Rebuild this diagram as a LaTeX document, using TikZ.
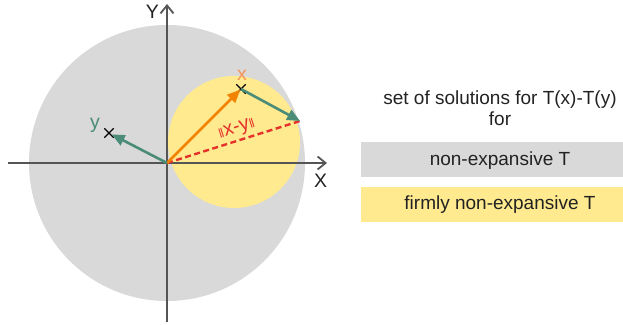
\documentclass[tikz,border=0pt]{standalone}
\usepackage{fontspec}
\setmainfont{Liberation Sans}
\usetikzlibrary{arrows.meta,shapes.misc}
\definecolor{cgray}{HTML}{D9D9D9}
\definecolor{cyel}{HTML}{FFEA8F}
\definecolor{cgreen}{HTML}{4A8C78}
\definecolor{corange}{HTML}{F28300}
\definecolor{clabor}{HTML}{F5935A}
\definecolor{cred}{HTML}{E5312B}
\definecolor{caxis}{HTML}{555555}
\definecolor{ctext}{HTML}{222222}
\begin{document}
\begin{tikzpicture}[x=1pt,y=-1pt,
  axis/.style={draw=caxis,line width=2pt,-{Straight Barb[length=8pt,width=13pt,line width=1.8pt]}},
  garrow/.style={draw=cgreen,line width=2.6pt,-{Triangle[length=13pt,width=11pt]}},
  oarrow/.style={draw=corange,line width=2.6pt,-{Triangle[length=13pt,width=11pt]}},
  reddash/.style={draw=cred,line width=2.4pt,dash pattern=on 6pt off 3.5pt},
  crossmark/.style={draw=black,cross out,line width=1.4pt,minimum size=8pt,inner sep=0pt},
  lab/.style={font=\fontsize{19.5}{22}\selectfont,inner sep=0pt},
  boxtxt/.style={font=\fontsize{19}{21}\selectfont,text=ctext,inner sep=0pt},
  legbox/.style={minimum width=262pt,minimum height=35pt,inner sep=0pt,draw=none}
]
\useasboundingbox (0,0) rectangle (623,324);
% circles
\fill[cgray] (167,163) circle[radius=138pt];
\fill[cyel] (234,142) circle[radius=66pt];
% axes
\coordinate (O) at (167,163);
\coordinate (axL) at (8,163);
\coordinate (axR) at (327,163);
\coordinate (axB) at (167,322);
\coordinate (axT) at (167,4);
\draw[axis] (axL) -- (axR);
\draw[axis] (axB) -- (axT);
\node[lab,text=ctext] (Ylab) at (152.5,12) {Y};
\node[lab,text=ctext] (Xlab) at (320.5,181) {X};
% points
\node[crossmark] (xp) at (241,89) {};
\node[crossmark] (yp) at (109,133) {};
\coordinate (P) at (300,121);
% vectors
\draw[reddash] (O) -- (P);
\draw[oarrow,shorten >=1pt] (O) -- (xp.center);
\draw[garrow,shorten >=3pt] (O) -- (yp.center);
\draw[garrow] (xp.center) -- (P);
% labels
\node[lab,text=clabor] (xlab) at (242,75) {x};
\node[lab,text=cgreen] (ylab) at (95,125) {y};
\node[text=cred,rotate=17.6,inner sep=0pt,font=\fontsize{20}{22}\selectfont] (dlab) at (237,129.5) {{\fontsize{13}{15}\selectfont ‖}x-y{\fontsize{13}{15}\selectfont ‖}};
% legend
\node[boxtxt] (t1) at (500,100) {set of solutions for T(x)-T(y)};
\node[boxtxt] (t2) at (500,119) {for};
\node[legbox,fill=cgray] (b1) at (492,159.5) {};
\node[boxtxt] (b1t) at (500,161) {non-expansive T};
\node[legbox,fill=cyel] (b2) at (492,204.5) {};
\node[boxtxt] (b2t) at (500,205) {firmly non-expansive T};
\end{tikzpicture}
\end{document}
